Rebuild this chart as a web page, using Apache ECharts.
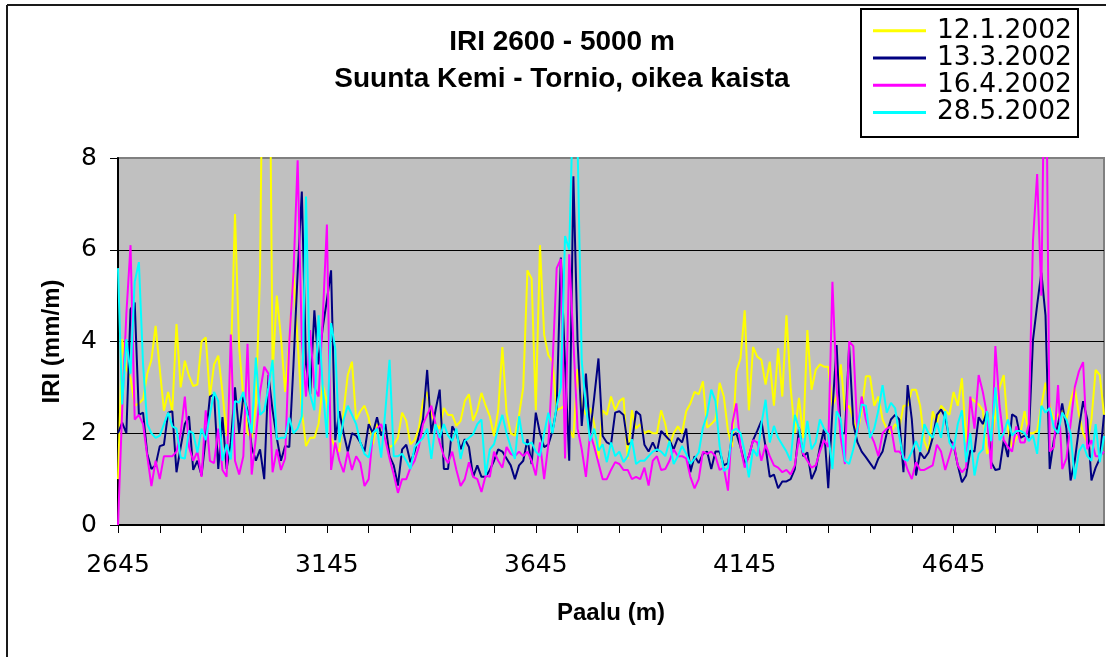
<!DOCTYPE html>
<html>
<head>
<meta charset="utf-8">
<title>IRI 2600 - 5000 m</title>
<script src="https://cdn.jsdelivr.net/npm/echarts@6/dist/echarts.min.js"></script>
<style>
  html, body { margin: 0; padding: 0; background: #ffffff; }
  #chart { width: 1106px; height: 657px; }
</style>
</head>
<body>
<div id="chart"></div>
<script>
// Stations along the road: 2645 m onward, one reading every 10 m
const FIRST_STATION = 2645;
const STATION_STEP = 10;
const STATION_COUNT = 237;

const seriesNames = ['12.1.2002', '13.3.2002', '16.4.2002', '28.5.2002'];
const seriesColors = ['#ffff00', '#000080', '#ff00ff', '#00ffff'];

// IRI (mm/m), measurement 12.1.2002
const iri_12_1_2002 = [
  1.0, 4.05, 3.4, 3.2, 2.6, 2.65, 2.74, 3.3, 3.6, 4.34, 3.4, 2.49, 2.9, 2.49, 4.38, 3.0, 3.58, 3.25, 3.03, 3.06,
  4.0, 4.09, 2.8, 3.5, 3.69, 2.9, 1.94, 3.5, 6.78, 3.87, 2.8, 2.0, 1.9, 2.6, 5.5, 14, 14, 3.3, 5.0, 4.1,
  2.9, 4.0, 5.5, 4.0, 2.5, 1.72, 1.9, 1.9, 2.2, 3.05, 2.7, 1.9, 1.7, 1.6, 2.48, 3.27, 3.56, 2.3, 2.48, 2.6,
  2.34, 1.76, 2.2, 2.05, 1.9, 1.7, 1.75, 1.9, 2.45, 2.27, 1.76, 1.85, 2.1, 2.7, 2.9, 2.4, 2.2, 2.1, 2.55, 2.4,
  2.4, 2.16, 2.27, 2.7, 2.85, 2.27, 2.5, 2.88, 2.6, 2.37, 1.94, 2.5, 3.88, 2.45, 2.0, 1.95, 2.4, 3.0, 5.55, 5.37,
  2.5, 6.1, 4.15, 3.7, 3.56, 2.5, 2.55, 2.6, 2.1, 1.9, 3.4, 2.6, 2.4, 2.55, 2.2, 1.44, 2.5, 2.4, 2.8, 2.5,
  2.7, 2.77, 1.44, 2.5, 2.1, 2.2, 2.0, 2.05, 2.0, 2.0, 2.5, 2.2, 1.72, 2.0, 2.15, 2.0, 2.48, 2.65, 2.9, 2.85,
  3.13, 2.12, 2.2, 2.3, 3.1, 2.8, 2.05, 1.7, 3.35, 3.63, 4.68, 2.5, 3.88, 3.67, 3.6, 3.06, 3.56, 2.6, 3.85, 2.8,
  4.57, 3.0, 2.0, 2.77, 1.9, 4.25, 2.95, 3.38, 3.5, 3.45, 3.45, 2.6, 2.8, 3.5, 2.5, 2.6, 2.3, 2.0, 2.5, 3.24,
  3.24, 2.6, 2.8, 2.3, 2.1, 2.0, 2.2, 2.1, 2.6, 2.6, 2.95, 2.95, 2.6, 1.83, 1.6, 2.48, 2.2, 2.6, 2.5, 2.4,
  2.9, 2.6, 3.2, 1.8, 2.77, 2.7, 2.63, 2.5, 1.55, 1.72, 2.4, 3.0, 3.27, 2.1, 1.7, 1.9, 2.0, 2.48, 2.0, 2.0,
  2.05, 2.6, 3.1, 2.6, 2.3, 2.4, 2.5, 2.3, 2.7, 3.0, 2.4, 2.0, 1.8, 2.3, 3.38, 3.27, 2.4
];

// IRI (mm/m), measurement 13.3.2002
const iri_13_3_2002 = [
  2.0, 2.23, 2.0, 4.7, 4.85, 2.4, 2.45, 1.55, 1.22, 1.3, 1.72, 1.75, 2.45, 2.48, 1.15, 1.7, 2.2, 2.37, 1.2, 1.4,
  1.08, 1.9, 2.8, 2.85, 1.22, 2.35, 1.22, 1.8, 3.0, 2.0, 2.8, 2.5, 1.7, 1.4, 1.65, 1.0, 3.27, 2.5, 1.9, 1.4,
  1.72, 1.7, 3.5, 5.5, 7.27, 3.5, 2.85, 4.68, 3.5, 4.3, 4.9, 5.55, 1.85, 2.48, 2.0, 1.6, 2.0, 1.95, 1.8, 1.6,
  2.2, 2.0, 2.35, 1.95, 2.2, 1.5, 1.3, 0.86, 1.65, 1.75, 1.37, 1.6, 1.94, 2.3, 3.38, 2.0, 2.5, 2.95, 1.22, 1.22,
  2.15, 2.0, 1.65, 1.87, 1.7, 1.05, 1.3, 1.05, 1.05, 1.2, 1.4, 1.65, 1.6, 1.45, 1.3, 1.0, 1.3, 1.4, 1.87, 1.33,
  2.45, 2.0, 1.7, 1.75, 2.05, 2.55, 5.83, 3.5, 1.4, 7.6, 4.0, 2.16, 3.3, 2.0, 2.8, 3.63, 1.94, 1.8, 1.75, 2.45,
  2.48, 2.4, 1.75, 1.8, 2.48, 2.4, 1.75, 1.6, 1.8, 1.6, 2.05, 1.95, 1.85, 1.65, 1.9, 1.8, 2.1, 1.15, 1.5, 1.35,
  1.55, 1.6, 1.22, 1.6, 1.6, 1.3, 1.35, 1.95, 2.0, 1.7, 1.33, 1.5, 1.85, 2.05, 2.27, 1.7, 1.05, 1.1, 0.8, 0.95,
  0.95, 1.0, 1.22, 2.12, 1.5, 1.58, 1.0, 1.2, 1.7, 2.1, 0.8, 2.5, 3.92, 2.0, 2.0, 3.9, 2.2, 1.8, 1.6, 1.48,
  1.35, 1.22, 1.45, 1.6, 2.0, 2.3, 2.4, 2.3, 1.15, 3.05, 2.3, 1.08, 1.58, 1.45, 1.58, 1.9, 2.4, 2.52, 2.35, 1.87,
  1.75, 1.3, 0.93, 1.08, 1.62, 1.6, 2.35, 2.2, 2.48, 1.37, 1.2, 1.22, 1.85, 1.48, 2.41, 2.35, 1.9, 1.95, 1.9, 4.03,
  4.8, 5.5, 4.57, 1.22, 1.85, 2.2, 2.65, 2.1, 0.97, 1.4, 2.1, 2.7, 2.3, 0.97, 1.25, 1.45, 2.4
];

// IRI (mm/m), measurement 16.4.2002
const iri_16_4_2002 = [
  0, 2.5, 4.6, 6.1, 2.3, 2.4, 2.2, 1.5, 0.85, 1.4, 1.0, 1.5, 1.5, 1.5, 1.6, 2.0, 2.8, 1.7, 1.4, 1.6,
  1.05, 2.5, 1.4, 1.35, 2.1, 1.2, 1.05, 4.15, 1.4, 1.1, 1.5, 3.95, 1.1, 1.9, 2.9, 3.45, 3.3, 1.15, 1.65, 1.2,
  1.45, 4.0, 5.5, 7.95, 4.0, 2.8, 4.25, 3.0, 2.8, 4.5, 6.55, 1.2, 1.8, 1.4, 1.15, 1.6, 1.2, 1.5, 1.35, 0.85,
  1.0, 2.0, 2.1, 2.2, 1.85, 1.45, 1.1, 0.7, 1.0, 1.0, 1.25, 1.4, 1.7, 2.2, 2.4, 2.6, 2.2, 1.8, 1.5, 1.35,
  1.6, 1.2, 0.85, 1.0, 1.37, 1.05, 1.0, 0.72, 1.08, 1.05, 1.6, 1.4, 1.25, 1.7, 1.55, 1.5, 1.6, 1.5, 1.6, 1.4,
  1.08, 1.8, 1.0, 1.75, 3.5, 5.6, 5.8, 1.45, 5.9, 4.0, 2.1, 1.65, 1.05, 2.0, 1.7, 1.35, 1.0, 1.0, 1.2, 1.37,
  1.33, 1.2, 1.2, 1.0, 1.05, 1.0, 1.25, 0.86, 1.4, 1.5, 1.2, 1.22, 1.4, 1.65, 1.5, 1.5, 1.45, 1.05, 0.8, 1.0,
  1.6, 1.55, 1.6, 1.5, 1.2, 1.25, 0.75, 2.2, 2.65, 1.7, 1.25, 1.5, 1.85, 1.8, 1.4, 1.75, 1.5, 1.3, 1.25, 1.15,
  1.2, 1.1, 1.3, 1.9, 1.55, 1.4, 1.25, 1.3, 1.6, 1.85, 1.7, 5.3, 3.0, 1.9, 1.33, 4.0, 3.9, 2.0, 2.8, 2.3,
  2.0, 1.8, 1.5, 2.0, 2.1, 2.15, 1.6, 1.6, 1.5, 1.2, 1.0, 1.37, 1.2, 1.2, 1.25, 1.3, 1.75, 1.6, 1.2, 1.5,
  1.8, 1.3, 1.15, 1.25, 2.8, 2.1, 3.27, 2.9, 2.4, 1.22, 3.9, 2.6, 1.85, 1.7, 1.6, 2.15, 1.8, 1.8, 2.2, 6.2,
  7.65, 5.0, 12, 1.6, 1.7, 3.05, 1.22, 1.45, 2.2, 3.0, 3.35, 3.55, 1.65, 1.85, 1.5, 1.5, 1.6
];

// IRI (mm/m), measurement 28.5.2002
const iri_28_5_2002 = [
  5.6, 2.63, 4.05, 3.3, 5.3, 5.73, 3.5, 2.2, 2.0, 1.9, 1.95, 2.2, 2.45, 2.15, 2.1, 1.47, 1.45, 2.05, 2.0, 1.58,
  2.1, 1.85, 2.4, 2.9, 2.7, 1.4, 1.76, 1.43, 2.7, 2.67, 2.9, 2.4, 2.0, 3.65, 2.4, 2.49, 3.0, 3.6, 1.87, 1.9,
  1.9, 2.34, 2.0, 2.1, 2.37, 7.16, 2.84, 2.5, 4.57, 3.0, 1.9, 4.4, 3.85, 1.8, 2.3, 2.6, 2.4, 2.2, 1.8, 1.55,
  1.47, 2.0, 2.1, 1.47, 2.5, 3.6, 1.5, 1.5, 1.55, 1.4, 1.22, 1.7, 1.8, 1.9, 2.1, 1.44, 2.2, 1.9, 2.2, 1.95,
  1.83, 2.1, 1.44, 1.83, 1.9, 1.98, 2.2, 2.3, 1.08, 1.65, 1.76, 2.1, 2.4, 2.0, 1.7, 1.44, 2.37, 1.8, 1.75, 1.8,
  1.6, 1.5, 2.0, 2.45, 2.0, 2.6, 3.0, 6.3, 6.0, 9.5, 8.3, 3.56, 2.6, 1.83, 2.1, 1.62, 1.76, 1.37, 1.8, 1.5,
  1.6, 1.37, 1.5, 1.87, 1.33, 1.4, 1.4, 1.5, 1.6, 1.65, 1.6, 1.5, 1.83, 1.33, 1.5, 1.72, 1.55, 1.33, 1.45, 1.58,
  2.12, 2.4, 2.95, 2.7, 1.72, 1.18, 1.25, 2.05, 2.1, 2.0, 1.6, 1.04, 1.65, 1.5, 2.2, 2.73, 1.8, 2.16, 1.9, 1.75,
  1.6, 1.4, 2.4, 2.1, 1.58, 2.27, 1.65, 1.8, 2.3, 2.1, 1.98, 1.22, 2.48, 2.3, 1.4, 1.33, 1.65, 2.1, 2.63, 2.6,
  1.9, 2.1, 2.5, 3.05, 2.45, 2.66, 2.55, 1.94, 1.44, 1.4, 1.6, 1.83, 1.6, 2.2, 2.0, 1.9, 2.23, 1.9, 2.48, 1.8,
  1.65, 2.2, 2.5, 1.37, 2.0, 1.08, 1.55, 1.65, 2.48, 1.83, 3.0, 1.85, 2.0, 2.3, 1.95, 2.05, 2.05, 2.0, 1.83, 1.95,
  1.55, 2.6, 2.45, 2.55, 2.12, 2.0, 2.45, 2.3, 2.0, 1.0, 1.6, 1.76, 1.5, 1.4, 2.2, 1.37, 1.94
];

const seriesValues = [iri_12_1_2002, iri_13_3_2002, iri_16_4_2002, iri_28_5_2002];

// Y axis scale: 0 ... 8 mm/m in steps of 2
const yTicks = [0, 2, 4, 6, 8];

const stations = [];
for (let i = 0; i < STATION_COUNT; i++) {
  stations.push(String(FIRST_STATION + i * STATION_STEP));
}

const chart = echarts.init(document.getElementById('chart'), null, { renderer: 'canvas' });

const boldFont = '"Liberation Sans", Arial, Helvetica, sans-serif';
const tickFont = '"DejaVu Sans", "Liberation Sans", Arial, sans-serif';

const option = {
  animation: false,
  backgroundColor: '#ffffff',
  graphic: [
    // chart area frame
    { type: 'line', z: 0, shape: { x1: 7, y1: 5, x2: 1106, y2: 5 }, style: { stroke: '#1a1a1a', lineWidth: 2 } },
    { type: 'line', z: 0, shape: { x1: 7, y1: 5, x2: 7, y2: 657 }, style: { stroke: '#1a1a1a', lineWidth: 2 } },
    // legend box
    { type: 'rect', z: 0, shape: { x: 861, y: 9, width: 217, height: 128 },
      style: { fill: '#ffffff', stroke: '#000000', lineWidth: 2 } },
    // two-line title
    { type: 'text', z: 5, style: { text: 'IRI 2600 - 5000 m', x: 562, y: 42, align: 'center', verticalAlign: 'middle',
      font: 'bold 28px ' + boldFont, fill: '#000000' } },
    { type: 'text', z: 5, style: { text: 'Suunta Kemi - Tornio, oikea kaista', x: 562, y: 79, align: 'center', verticalAlign: 'middle',
      font: 'bold 28px ' + boldFont, fill: '#000000' } }
  ],
  legend: {
    orient: 'vertical',
    left: 873,
    top: 17,
    padding: 0,
    itemGap: 0,
    itemWidth: 53,
    itemHeight: 3,
    icon: 'rect',
    data: seriesNames,
    textStyle: {
      fontFamily: tickFont,
      fontSize: 26.5,
      color: '#000000',
      lineHeight: 27.3,
      padding: [0, 0, 0, 6]
    }
  },
  grid: {
    left: 118,
    right: 2,
    top: 158,
    bottom: 132,
    show: true,
    backgroundColor: '#c0c0c0',
    borderColor: '#808080',
    borderWidth: 2
  },
  xAxis: {
    type: 'category',
    data: stations,
    boundaryGap: false,
    name: 'Paalu (m)',
    nameLocation: 'middle',
    nameGap: 76,
    nameTextStyle: { fontFamily: boldFont, fontWeight: 'bold', fontSize: 24, color: '#000000' },
    axisLine: { show: true, lineStyle: { color: '#000000', width: 2 } },
    axisTick: { show: true, interval: 9, length: 8, lineStyle: { color: '#000000', width: 1 } },
    axisLabel: { interval: 49, margin: 28, fontFamily: tickFont, fontSize: 25, color: '#000000' },
    splitLine: { show: false }
  },
  yAxis: {
    type: 'value',
    min: yTicks[0],
    max: yTicks[yTicks.length - 1],
    interval: yTicks[1] - yTicks[0],
    name: 'IRI (mm/m)',
    nameLocation: 'middle',
    nameRotate: 90,
    nameGap: 54,
    nameTextStyle: { fontFamily: boldFont, fontWeight: 'bold', fontSize: 24, color: '#000000' },
    axisLine: { show: true, lineStyle: { color: '#000000', width: 2 } },
    axisTick: { show: true, length: 8, lineStyle: { color: '#000000', width: 1 } },
    axisLabel: { margin: 21, fontFamily: tickFont, fontSize: 25, color: '#000000' },
    splitLine: { show: true, showMinLine: false, showMaxLine: false, lineStyle: { color: '#000000', width: 1 } }
  },
  series: seriesNames.map(function (name, k) {
    return {
      name: name,
      type: 'line',
      data: seriesValues[k],
      symbol: 'none',
      showSymbol: false,
      clip: true,
      color: seriesColors[k],
      lineStyle: { color: seriesColors[k], width: 2 },
      emphasis: { disabled: true }
    };
  })
};

chart.setOption(option);
</script>
</body>
</html>
